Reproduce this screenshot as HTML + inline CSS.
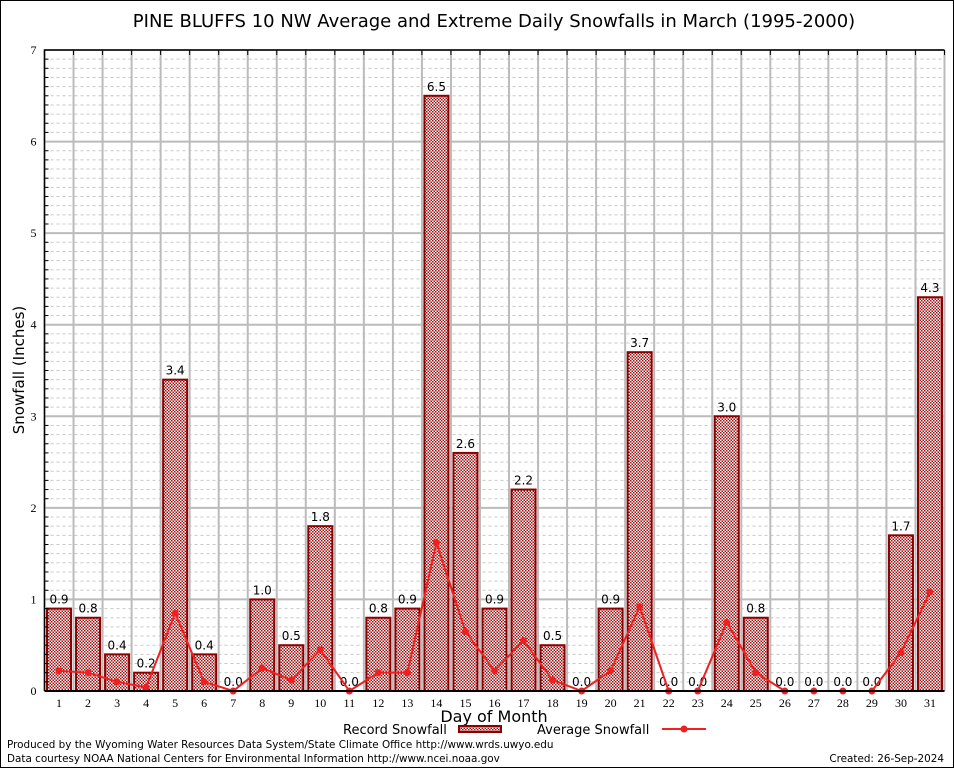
<!DOCTYPE html>
<html><head><meta charset="utf-8"><style>
body{margin:0;background:#fff;}
svg{display:block;font-family:"DejaVu Sans","Liberation Sans",sans-serif;}
</style></head><body>
<svg id="chart" width="954" height="768">
<defs>
<pattern id="chk" width="3" height="3" patternUnits="userSpaceOnUse">
<rect width="3" height="3" fill="#fff"/>
<rect width="1.5" height="1.5" fill="#a01010"/>
<rect x="1.5" y="1.5" width="1.5" height="1.5" fill="#a01010"/>
</pattern>
</defs>
<rect x="0.5" y="0.5" width="953" height="767" fill="#fff" stroke="#000"/>
<text x="494" y="27" font-size="18" text-anchor="middle">PINE BLUFFS 10 NW Average and Extreme Daily Snowfalls in March (1995-2000)</text>
<g id="grid"></g>
<g id="bars"></g>
<g id="line"></g>
<g id="axes"></g>
<text x="24" y="370" font-size="15" text-anchor="middle" transform="rotate(-90 24 370)">Snowfall (Inches)</text>
<text x="494" y="722" font-size="16" text-anchor="middle">Day of Month</text>
<g>
<text x="343" y="734" font-size="13">Record Snowfall</text>
<rect x="459" y="726" width="42" height="6" fill="url(#chk)" stroke="#8b0000" stroke-width="2"/>
<text x="537" y="734" font-size="13">Average Snowfall</text>
<line x1="662" y1="729" x2="706" y2="729" stroke="#f02020" stroke-width="2"/>
<circle cx="684" cy="729" r="3.5" fill="#f02020"/>
</g>
<text x="7" y="748" font-size="10.4">Produced by the Wyoming Water Resources Data System/State Climate Office http://www.wrds.uwyo.edu</text>
<text x="7" y="762" font-size="10.4">Data courtesy NOAA National Centers for Environmental Information http://www.ncei.noaa.gov</text>
<text x="944" y="762" font-size="10.4" text-anchor="end">Created: 26-Sep-2024</text>
</svg>
<script>
const days=[1,2,3,4,5,6,7,8,9,10,11,12,13,14,15,16,17,18,19,20,21,22,23,24,25,26,27,28,29,30,31];
const recordValues=[0.9,0.8,0.4,0.2,3.4,0.4,0.0,1.0,0.5,1.8,0.0,0.8,0.9,6.5,2.6,0.9,2.2,0.5,0.0,0.9,3.7,0.0,0.0,3.0,0.8,0.0,0.0,0.0,0.0,1.7,4.3];
const averageValues=[0.22,0.2,0.1,0.04,0.85,0.1,0.0,0.25,0.12,0.45,0.0,0.2,0.2,1.62,0.65,0.22,0.55,0.12,0.0,0.22,0.92,0.0,0.0,0.75,0.2,0.0,0.0,0.0,0.0,0.42,1.08];
const yTicks=[0,1,2,3,4,5,6,7];
const NS="http://www.w3.org/2000/svg";
const L=44.5,R=944.5,T=50,B=691,YMAX=7;
const slot=(R-L)/days.length;
const x=i=>L+slot*(i+0.5);
const y=v=>B-(v/YMAX)*(B-T);
function mk(tag,attrs,parent){const e=document.createElementNS(NS,tag);for(const k in attrs)e.setAttribute(k,attrs[k]);parent.appendChild(e);return e;}
const grid=document.getElementById('grid'),bars=document.getElementById('bars'),line=document.getElementById('line'),axes=document.getElementById('axes');
for(let m=1;m<YMAX*10;m++){if(m%10===0)continue;const g=mk('line',{x1:L,x2:R,y1:y(m/10),y2:y(m/10),stroke:'#c8c8c8','stroke-dasharray':'3,3'},grid);


const tk=mk('line',{x1:L,x2:L+4,y1:y(m/10),y2:y(m/10),stroke:'#000'},axes);

}
yTicks.forEach(t=>{const g=mk('line',{x1:L,x2:R,y1:y(t),y2:y(t),stroke:'#bbb','stroke-width':2},grid);


const tx=mk('text',{x:L-8,y:y(t)+4,'font-size':12,'text-anchor':'end','font-family':'Liberation Serif, serif'},axes);tx.textContent=t;

});
for(let i=0;i<=days.length;i++){const g=mk('line',{x1:L+slot*i,x2:L+slot*i,y1:T,y2:B,stroke:'#bbb','stroke-width':2},grid);


const tk=mk('line',{x1:L+slot*i,x2:L+slot*i,y1:T,y2:T+5,stroke:'#000'},axes);

}
days.forEach((d,i)=>{const v=recordValues[i];
if(v>0){const b=mk('rect',{x:x(i)-12,y:y(v),width:24,height:B-y(v),fill:'url(#chk)',stroke:'#8b0000','stroke-width':2},bars);

}
const lb=mk('text',{x:x(i),y:y(v)-5,'font-size':12,'text-anchor':'middle'},bars);lb.textContent=v.toFixed(1);


const tx=mk('text',{x:x(i),y:B+16,'font-size':12,'text-anchor':'middle','font-family':'Liberation Serif, serif'},axes);tx.textContent=d;

});
const pl=mk('polyline',{points:averageValues.map((v,i)=>x(i)+','+y(v)).join(' '),fill:'none',stroke:'#f02020','stroke-width':2},line);


averageValues.forEach((v,i)=>{const c=mk('circle',{cx:x(i),cy:y(v),r:3.5,fill:'#f02020'},line);

});
const ax=mk('path',{d:`M${L},${B} V${T} H${R}`,fill:'none',stroke:'#000','stroke-width':1.5},axes);


const bx=mk('line',{x1:L,x2:R,y1:B,y2:B,stroke:'#000','stroke-width':2},axes);


</script>
</body></html>
